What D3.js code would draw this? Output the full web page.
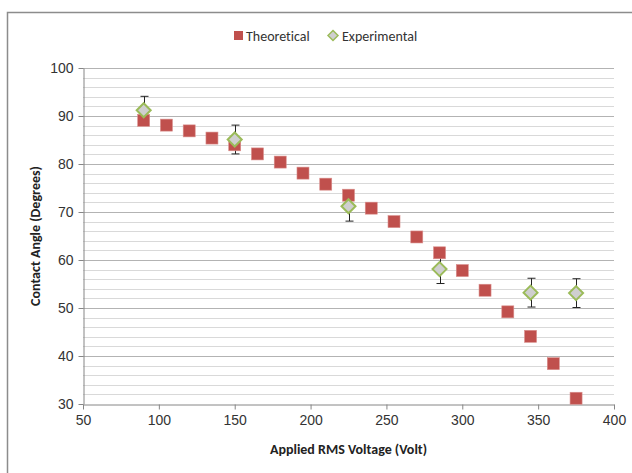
<!DOCTYPE html>
<html>
<head>
<meta charset="utf-8">
<script src="https://d3js.org/d3.v7.min.js"></script>
<style>
  body { margin: 0; background: #fff; }
  svg { font-family: Carlito, "Liberation Sans Narrow", "Open Sans", sans-serif; font-variant-ligatures: none; }
</style>
</head>
<body>
<svg id="chart" width="632" height="473"></svg>
<script>
// chart data
var theoVoltage = [90, 105, 120, 135, 150, 165, 180, 195, 210, 225, 240, 255, 270, 285, 300, 315, 330, 345, 360, 375];
var theoAngle = [89.1, 88.1, 86.9, 85.4, 84.0, 82.1, 80.4, 78.1, 75.8, 73.5, 70.8, 68.0, 64.8, 61.5, 57.8, 53.7, 49.2, 44.1, 38.4, 31.2];
var expVoltage = [90, 150, 225, 285, 345, 375];
var expAngle = [91.2, 85.1, 71.2, 58.1, 53.2, 53.1];
var expError = [2.9, 3.0, 3.1, 3.0, 3.0, 3.0];
var xTicks = [50, 100, 150, 200, 250, 300, 350, 400];
var yTicks = [30, 40, 50, 60, 70, 80, 90, 100];

var svg = d3.select("#chart");
var plotLeft = 83, plotRight = 614, plotTop = 68, plotBottom = 404;

var x = d3.scaleLinear().domain([50, 400]).range([plotLeft, plotRight]);
var y = d3.scaleLinear().domain([30, 100]).range([plotBottom, plotTop]);

// outer frame
svg.append("rect")
  .attr("x", 7.5).attr("y", 12.5)
  .attr("width", 640).attr("height", 480)
  .attr("fill", "none").attr("stroke", "#8c8c8c").attr("stroke-width", 1.5);

// minor + major gridlines
var minor = d3.range(32, 100, 2).filter(function(v) { return v % 10 != 0; });
svg.append("g").selectAll("line").data(minor).enter().append("line")
  .attr("x1", plotLeft).attr("x2", plotRight)
  .attr("y1", function(d) { return Math.round(y(d)) + 0.5; })
  .attr("y2", function(d) { return Math.round(y(d)) + 0.5; })
  .attr("stroke", "#d9d9d9");
svg.append("g").selectAll("line").data(yTicks.slice(1)).enter().append("line")
  .attr("x1", plotLeft).attr("x2", plotRight)
  .attr("y1", function(d) { return Math.round(y(d)) + 0.5; })
  .attr("y2", function(d) { return Math.round(y(d)) + 0.5; })
  .attr("stroke", "#b3b3b3");

// axes
var xAxis = svg.append("g")
  .attr("transform", "translate(0," + (plotBottom + 0.5) + ")")
  .call(d3.axisBottom(x).tickValues(xTicks).tickSize(5).tickSizeOuter(0).tickPadding(6));
var yAxis = svg.append("g")
  .attr("transform", "translate(" + (plotLeft + 0.5) + ",0)")
  .call(d3.axisLeft(y).tickValues(yTicks).tickSize(5).tickSizeOuter(0).tickPadding(5));
svg.selectAll(".domain, .tick line").attr("stroke", "#868686");
svg.selectAll(".tick text").attr("font-size", 14).attr("fill", "#333").attr("font-family", null);

// axis titles
svg.append("text")
  .attr("x", (plotLeft + plotRight) / 2).attr("y", 454)
  .attr("text-anchor", "middle").attr("font-size", 14).attr("font-weight", "bold")
  .attr("fill", "#222")
  .text("Applied RMS Voltage (Volt)");
svg.append("text")
  .attr("transform", "translate(40," + ((plotTop + plotBottom) / 2) + ") rotate(-90)")
  .attr("text-anchor", "middle").attr("font-size", 14).attr("font-weight", "bold")
  .attr("fill", "#222")
  .text("Contact Angle (Degrees)");

// error bars (behind the markers)
var eb = svg.append("g").attr("stroke", "#222").attr("stroke-width", 1);
expVoltage.forEach(function(v, i) {
  var cx = Math.round(x(v)) + 0.5;
  var yt = y(expAngle[i] + expError[i]), yb = y(expAngle[i] - expError[i]);
  eb.append("line").attr("x1", cx).attr("x2", cx).attr("y1", yt).attr("y2", yb);
  eb.append("line").attr("x1", cx - 4).attr("x2", cx + 4).attr("y1", yt).attr("y2", yt);
  eb.append("line").attr("x1", cx - 4).attr("x2", cx + 4).attr("y1", yb).attr("y2", yb);
});

// theoretical squares
svg.append("g").selectAll("rect").data(theoVoltage).enter().append("rect")
  .attr("x", function(d) { return x(d) - 6; })
  .attr("y", function(d, i) { return y(theoAngle[i]) - 6; })
  .attr("width", 12).attr("height", 12)
  .attr("fill", "#c0504d").attr("stroke", "#d98f8d").attr("stroke-width", 0.6);

// experimental diamonds
var diamond = "M0,-7L7,0L0,7L-7,0Z";
svg.append("g").selectAll("path").data(expVoltage).enter().append("path")
  .attr("d", diamond)
  .attr("transform", function(d, i) { return "translate(" + x(d) + "," + y(expAngle[i]) + ")"; })
  .attr("fill", "#cfcfcf").attr("stroke", "#9bbb59").attr("stroke-width", 2);

// legend
var lg = svg.append("g");
lg.append("rect").attr("x", 234).attr("y", 31).attr("width", 9).attr("height", 9).attr("fill", "#c0504d");
lg.append("text").attr("x", 246).attr("y", 41).attr("font-size", 14).attr("fill", "#333").text("Theoretical");
lg.append("path").attr("d", "M0,-5L5,0L0,5L-5,0Z").attr("transform", "translate(333,35.5)")
  .attr("fill", "#cfcfcf").attr("stroke", "#9bbb59").attr("stroke-width", 1.5);
lg.append("text").attr("x", 342).attr("y", 41).attr("font-size", 14).attr("fill", "#333").text("Experimental");
</script>
</body>
</html>
